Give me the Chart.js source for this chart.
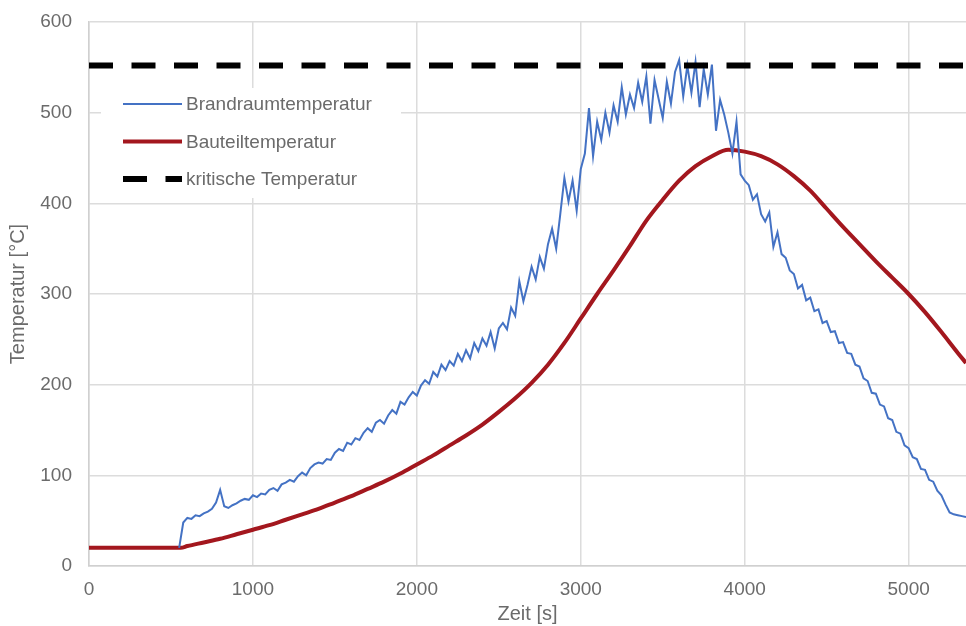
<!DOCTYPE html>
<html lang="de">
<head>
<meta charset="utf-8">
<title>Temperaturverlauf</title>
<script src="https://cdn.jsdelivr.net/npm/chart.js@4.4.1/dist/chart.umd.min.js"></script>
<style>
  html, body { margin: 0; padding: 0; background: #fff; }
  #wrap { width: 966px; height: 626px; }
</style>
</head>
<body>
<div id="wrap"><canvas id="chart" width="966" height="626"></canvas></div>
<script>
// Brandraumtemperatur: Messwerte alle 25 s ab 550 s
const brandStart = 550;
const brandStep = 25;
const brandTemp = [
  20,
  48, 53, 52, 56, 55, 58, 60, 63, 70, 84, 66, 64, 67, 69, 72, 74, 73, 78,
  76, 80, 79, 84, 86, 83, 90, 92, 95, 93, 99, 103, 100, 108, 112, 114, 113, 118, 117, 125,
  129, 127, 136, 134, 141, 139, 147, 152, 148, 158, 161, 157, 166, 172, 168, 181, 178, 186, 192, 188,
  199, 205, 201, 214, 209, 222, 216, 226, 221, 234, 226, 238, 229, 246, 237, 251, 243, 258, 240, 262,
  268, 261, 285, 276, 314, 292, 310, 330, 316, 341, 328, 355, 372, 350, 388, 428, 402, 425, 392, 438,
  455, 505, 452, 490, 470, 500, 478, 508, 490, 528, 498, 520, 505, 533, 512, 540, 488, 536, 515, 494,
  534, 510, 545, 558, 518, 552, 522, 556, 506, 548, 520, 553, 480, 514, 498, 478, 455, 490, 432, 425,
  420, 404, 410, 388, 380, 390, 352, 368, 344, 340, 326, 322, 306, 310, 293, 296, 281, 283, 268, 270,
  258, 259, 246, 247, 235, 234, 222, 220, 207, 204, 191, 190, 178, 176, 163, 161, 148, 146, 133, 130,
  120, 118, 107, 106, 95, 93, 83, 78, 68, 59, 57, 56, 55, 54
];

// Bauteiltemperatur
const bauZeit = [0, 560, 600, 700, 800, 900, 1000, 1100, 1200, 1300, 1400, 1500, 1600, 1700, 1800, 1900,
  2000, 2100, 2200, 2300, 2400, 2500, 2600, 2700, 2800, 2900, 3000, 3100, 3200, 3300, 3400, 3500,
  3600, 3700, 3800, 3900, 4000, 4100, 4200, 4300, 4400, 4500, 4600, 4700, 4800, 4900, 5000, 5100,
  5200, 5300, 5350];
const bauTemp = [20, 20, 22, 26, 30, 35, 40, 45, 51, 57, 63, 70, 77, 85, 93, 102,
  112, 122, 133, 144, 156, 170, 185, 202, 222, 246, 273, 300, 326, 353, 381, 404,
  425, 441, 452, 459, 457, 452, 443, 430, 414, 394, 374, 355, 336, 318, 300, 280,
  258, 235, 224];

// kritische Temperatur
const kritZeit = [0, 5350];
const kritTemp = [552, 552];

const yTicks = [0, 100, 200, 300, 400, 500, 600];
const xTicks = [0, 1000, 2000, 3000, 4000, 5000];

const brandPoints = brandTemp.map((t, i) => ({ x: brandStart + i * brandStep, y: t }));
const bauPoints = bauTemp.map((t, i) => ({ x: bauZeit[i], y: t }));
const kritPoints = kritTemp.map((t, i) => ({ x: kritZeit[i], y: t }));

const FONT = "'Liberation Sans', Arial, sans-serif";
const GREY = '#6b6b6b';

// Legende im Diagramm (weisser Kasten oben links)
const innerLegend = {
  id: 'innerLegend',
  afterDatasetsDraw(chart) {
    const ctx = chart.ctx;
    const left = chart.chartArea.left;
    const top = chart.chartArea.top;
    ctx.save();
    ctx.fillStyle = '#fff';
    ctx.fillRect(left + 12, top + 66, 300, 110);
    [0, 1, 2].forEach((di, r) => {
      const ds = chart.data.datasets[di];
      const y = top + 82 + r * 37.5;
      ctx.beginPath();
      ctx.strokeStyle = ds.borderColor;
      ctx.lineWidth = ds.borderWidth;
      ctx.setLineDash(ds.borderDash || []);
      ctx.lineDashOffset = 0;
      ctx.moveTo(left + 34, y);
      ctx.lineTo(left + 93, y);
      ctx.stroke();
      ctx.setLineDash([]);
      ctx.fillStyle = GREY;
      ctx.font = '19px ' + FONT;
      ctx.textBaseline = 'middle';
      ctx.textAlign = 'left';
      ctx.fillText(ds.label, left + 97, y + 1);
    });
    ctx.restore();
  }
};

new Chart(document.getElementById('chart'), {
  type: 'line',
  data: {
    datasets: [
      {
        label: 'Brandraumtemperatur',
        data: brandPoints,
        borderColor: '#4472C4',
        borderWidth: 2,
        pointRadius: 0,
        tension: 0,
        order: 2
      },
      {
        label: 'Bauteiltemperatur',
        data: bauPoints,
        borderColor: '#A3171E',
        borderWidth: 4,
        pointRadius: 0,
        cubicInterpolationMode: 'monotone',
        order: 3
      },
      {
        label: 'kritische Temperatur',
        data: kritPoints,
        borderColor: '#000',
        borderWidth: 6,
        borderDash: [24, 18.5],
        pointRadius: 0,
        order: 1
      }
    ]
  },
  options: {
    responsive: false,
    animation: false,
    devicePixelRatio: 1,
    layout: { padding: { top: 22, right: 0, bottom: 0, left: 0 } },
    plugins: {
      legend: { display: false },
      tooltip: { enabled: false }
    },
    scales: {
      x: {
        type: 'linear',
        min: 0,
        max: 5350,
        afterFit: (s) => { s.height = 60; s.paddingRight = 0; },
        afterBuildTicks: (s) => { s.ticks = xTicks.map(v => ({ value: v })); },
        ticks: { font: { family: FONT, size: 19 }, color: GREY, padding: 12, callback: (v) => String(v) },
        grid: { color: '#dcdcdc', lineWidth: 1.5, drawTicks: false },
        border: { color: '#d0d0d0', width: 1.5 },
        title: {
          display: true, text: 'Zeit [s]', color: GREY,
          font: { family: FONT, size: 20 }, padding: { top: 0, bottom: 0 }
        }
      },
      y: {
        min: 0,
        max: 600,
        afterFit: (s) => { s.width = 89; s.paddingTop = 0; s.paddingBottom = 0; },
        afterBuildTicks: (s) => { s.ticks = yTicks.map(v => ({ value: v })); },
        ticks: { font: { family: FONT, size: 19 }, color: GREY, padding: 17 },
        grid: { color: '#dcdcdc', lineWidth: 1.5, drawTicks: false },
        border: { color: '#d0d0d0', width: 1.5 },
        title: {
          display: true, text: 'Temperatur [°C]', color: GREY,
          font: { family: FONT, size: 20 }, padding: { top: 6, bottom: 0 }
        }
      }
    }
  },
  plugins: [innerLegend]
});
</script>
</body>
</html>
